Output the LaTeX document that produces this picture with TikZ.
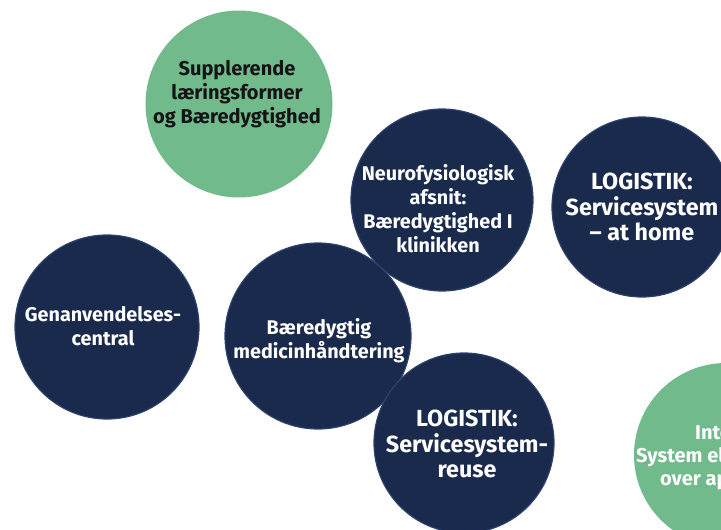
\documentclass[tikz,border=0pt]{standalone}
\usepackage{fontspec}
\setmainfont{Fira Sans}
\begin{document}
\definecolor{navy}{HTML}{1A2A4C}
\definecolor{navyedge}{HTML}{2C416E}
\definecolor{leaf}{HTML}{70BA8C}
\definecolor{ink}{HTML}{141414}
\begin{tikzpicture}[x=1pt,y=-1pt,
  bubble/.style={circle,inner sep=0pt,minimum size=#1},
  navybubble/.style={bubble=#1,fill=navy,draw=navyedge,line width=1.2pt},
  greenbubble/.style={bubble=#1,fill=leaf},
  lbl/.style={align=center,text=white,font=\bfseries\fontsize{19.8}{24}\selectfont},
  biglbl/.style={align=center,text=white,font=\bfseries\fontsize{23.3}{25.5}\selectfont},
  darklbl/.style={align=center,text=ink,font=\bfseries\fontsize{20}{24}\selectfont},
  cutlbl/.style={anchor=base west,text=white,font=\bfseries\fontsize{20}{23}\selectfont,inner sep=0pt}]
\useasboundingbox (0,0) rectangle (721,530);
\clip (0,0) rectangle (721,530);

% green topic at the top
\node[greenbubble=187pt] (learn) at (239,104) {};
\node[darklbl] (learntxt) at (237,94) {Supplerende\\læringsformer\\og Bæredygtighed};

% navy topics
\node[navybubble=184pt] (reusec) at (107,327) {};
\node[lbl] (reusectxt) at (103,326) {Genanvendelses-\\central};

\node[navybubble=186pt] (medic) at (318,336) {};
\node[lbl] (medictxt) at (319,341) {Bæredygtig\\medicinhåndtering};

\node[navybubble=182pt] (neuro) at (442,200) {};
\node[lbl] (neurotxt) at (438,209) {Neurofysiologisk\\afsnit:\\Bæredygtighed I\\klinikken};

\node[navybubble=180pt] (home) at (642,207) {};
\node[biglbl] (hometxt) at (642,207) {LOGISTIK:\\Servicesystem\\– at home};

\node[navybubble=180pt] (reuse) at (464,443) {};
\node[biglbl] (reusetxt) at (467,444) {LOGISTIK:\\Servicesystem-\\reuse};

% green topic cut by the right edge
\node[greenbubble=184pt] (app) at (726,455) {};
\node[cutlbl] (app1) at (695,439) {Inte};
\node[cutlbl] (app2) at (636,462) {System el};
\node[cutlbl] (app3) at (660,485) {over ap};
\end{tikzpicture}
\end{document}
